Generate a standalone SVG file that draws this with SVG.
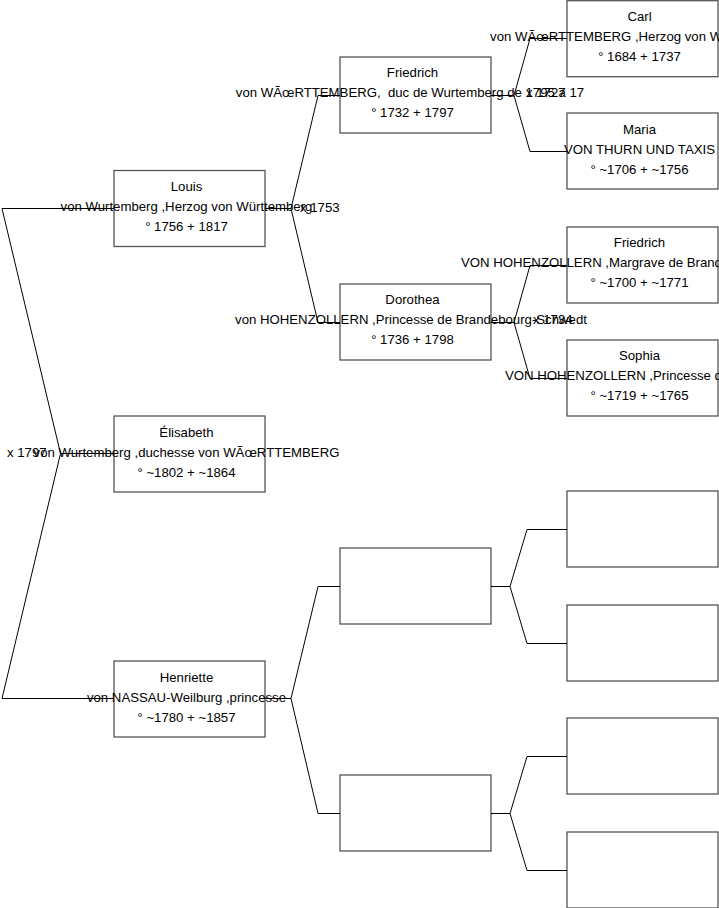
<svg xmlns="http://www.w3.org/2000/svg" width="719" height="908" viewBox="0 0 719 908">
<style>
rect.box{fill:#fff;stroke:#555;stroke-width:1.3}
text{font-family:"Liberation Sans",Arial,sans-serif;font-size:13.2px;fill:#000;text-anchor:middle;white-space:pre}
text.m{text-anchor:start}
.c path{fill:none;stroke:#000;stroke-width:1}
</style>
<rect width="719" height="908" fill="#fff"/>
<g id="n-louis"><rect class="box" x="114" y="170.5" width="151" height="76"/>
<text x="186.5" y="191">Louis</text><text x="186.5" y="211">von Wurtemberg ,Herzog von Württemberg</text><text x="186.5" y="231">° 1756 + 1817</text></g>
<g id="n-elisabeth"><rect class="box" x="114" y="416" width="151" height="76"/>
<text x="186.5" y="437">Élisabeth</text><text x="186.5" y="457">von Wurtemberg ,duchesse von WÃœRTTEMBERG</text><text x="186.5" y="477">° ~1802 + ~1864</text></g>
<g id="n-henriette"><rect class="box" x="114" y="661" width="151" height="76"/>
<text x="186.5" y="682">Henriette</text><text x="186.5" y="702">von NASSAU-Weilburg ,princesse</text><text x="186.5" y="722">° ~1780 + ~1857</text></g>
<g id="n-friedrich1"><rect class="box" x="340" y="57" width="151" height="76"/>
<text x="412.5" y="77">Friedrich</text><text x="410" y="97">von WÃœRTTEMBERG,  duc de Wurtemberg de 1795 à 17</text><text x="412.5" y="117">° 1732 + 1797</text></g>
<g id="n-dorothea"><rect class="box" x="340" y="284" width="151" height="76"/>
<text x="412.5" y="304">Dorothea</text><text x="411" y="324">von HOHENZOLLERN ,Princesse de Brandebourg-Schwedt</text><text x="412.5" y="344">° 1736 + 1798</text></g>
<g id="n-empty1"><rect class="box" x="340" y="548" width="151" height="76"/></g>
<g id="n-empty2"><rect class="box" x="340" y="775" width="151" height="76"/></g>
<g id="n-carl"><rect class="box" x="567" y="0.7" width="151" height="76"/>
<text x="639.5" y="21">Carl</text><text x="638" y="41">von WÃœRTTEMBERG ,Herzog von Württemberg</text><text x="639.5" y="61">° 1684 + 1737</text></g>
<g id="n-maria"><rect class="box" x="567" y="113" width="151" height="76"/>
<text x="639.5" y="134">Maria</text><text x="639.5" y="154">VON THURN UND TAXIS</text><text x="639.5" y="174">° ~1706 + ~1756</text></g>
<g id="n-friedrich2"><rect class="box" x="567" y="227" width="151" height="76"/>
<text x="639.5" y="247">Friedrich</text><text x="639.5" y="267">VON HOHENZOLLERN ,Margrave de Brandebourg-Schwedt</text><text x="639.5" y="287">° ~1700 + ~1771</text></g>
<g id="n-sophia"><rect class="box" x="567" y="340" width="151" height="76"/>
<text x="639.5" y="360">Sophia</text><text x="639.5" y="380">VON HOHENZOLLERN ,Princesse de Prusse</text><text x="639.5" y="400">° ~1719 + ~1765</text></g>
<g id="n-empty3"><rect class="box" x="567" y="491" width="151" height="76"/></g>
<g id="n-empty4"><rect class="box" x="567" y="605" width="151" height="76"/></g>
<g id="n-empty5"><rect class="box" x="567" y="718" width="151" height="76"/></g>
<g id="n-empty6"><rect class="box" x="567" y="832" width="151" height="76"/></g>
<g id="marriage-labels">
<text class="m" x="7" y="457">x 1797</text>
<text class="m" x="300" y="212">x 1753</text>
<text class="m" x="526" y="97">x 1727</text>
<text class="m" x="533" y="324">x 1734</text>
</g>
<g class="c" id="connectors">
<path d="M114,453.5H60.5L2,208.5H114M60.5,453.5L2,698.5H114"/>
<path d="M265,208.5H291L318,95.5H340M291,208.5L318,322.5H340"/>
<path d="M265,698.5H291L318,586.5H340M291,698.5L318,813.5H340"/>
<path d="M491,95.5H514L530,38.5H567M514,95.5L530,151.5H567"/>
<path d="M491,322.5H514L530,265.5H567M514,322.5L530,378.5H567"/>
<path d="M491,586.5H510L527,529.5H567M510,586.5L527,643.5H567"/>
<path d="M491,813.5H510L527,756.5H567M510,813.5L527,870.5H567"/>
</g>
</svg>
